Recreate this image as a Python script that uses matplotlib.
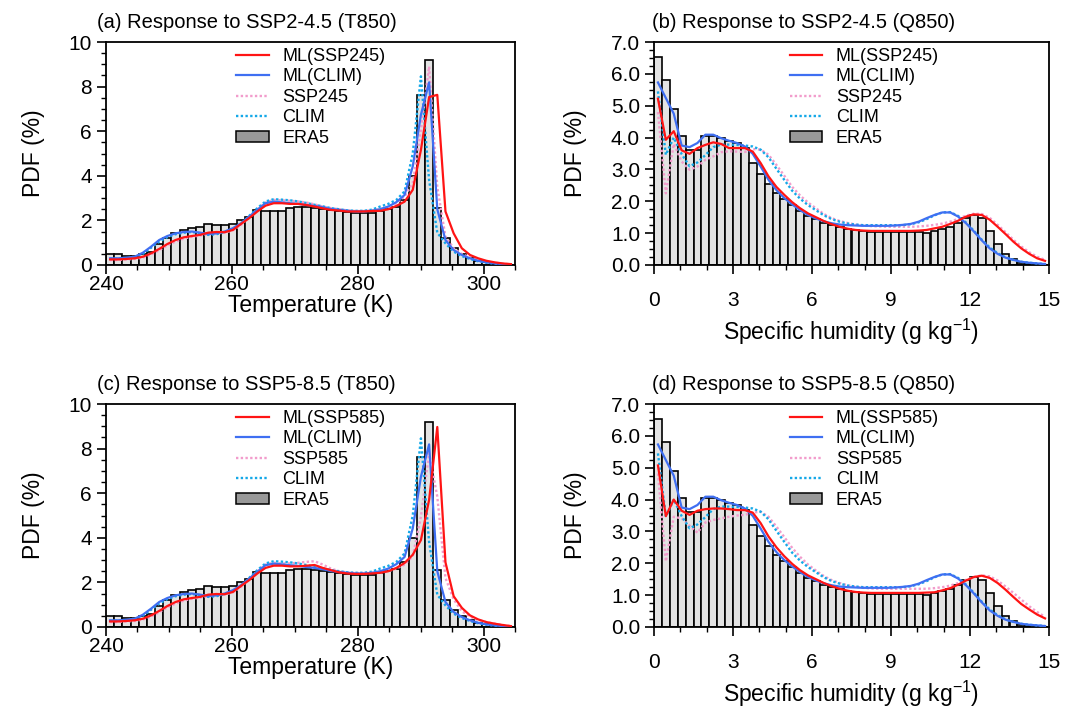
import numpy as np
import matplotlib.pyplot as plt
from matplotlib.patches import Patch
from matplotlib.lines import Line2D

plt.rcParams['font.family'] = ['Liberation Sans', 'DejaVu Sans']
plt.rcParams['mathtext.fontset'] = 'custom'
plt.rcParams['mathtext.rm'] = 'Liberation Sans'
plt.rcParams['mathtext.it'] = 'Liberation Sans:italic'

# ---- T850 (K): 50 bins of 1.3 K from 240 K
t_start, t_width = 240.0, 1.3
t_era5 = [0.48, 0.48, 0.42, 0.42, 0.50, 0.60, 0.93, 1.22, 1.42, 1.55,
          1.68, 1.72, 1.82, 1.78, 1.78, 1.84, 2.00, 2.15, 2.45, 2.43,
          2.40, 2.40, 2.54, 2.62, 2.62, 2.54, 2.50, 2.45, 2.43, 2.38,
          2.35, 2.35, 2.35, 2.43, 2.50, 2.62, 2.90, 3.97, 7.63, 9.18,
          2.54, 1.20, 0.75, 0.48, 0.30, 0.20, 0.13, 0.08, 0.04, 0.02]
t_ml_clim = [0.30, 0.30, 0.33, 0.37, 0.55, 0.82, 1.12, 1.30, 1.42, 1.48,
             1.50, 1.45, 1.39, 1.42, 1.50, 1.65, 1.87, 2.17, 2.47, 2.77,
             2.84, 2.81, 2.77, 2.74, 2.69, 2.65, 2.59, 2.51, 2.47, 2.43,
             2.40, 2.40, 2.43, 2.50, 2.62, 2.82, 3.14, 4.42, 6.74, 8.19,
             2.50, 1.12, 0.67, 0.45, 0.30, 0.19, 0.12, 0.07, 0.04, 0.02]
t_clim = [0.28, 0.28, 0.30, 0.35, 0.50, 0.77, 1.05, 1.25, 1.38, 1.45,
          1.48, 1.43, 1.35, 1.38, 1.48, 1.62, 1.85, 2.20, 2.55, 2.85,
          2.95, 2.93, 2.90, 2.85, 2.78, 2.70, 2.63, 2.55, 2.50, 2.45,
          2.43, 2.43, 2.48, 2.62, 2.74, 2.92, 3.30, 5.00, 8.46, 3.80,
          1.45, 0.97, 0.60, 0.40, 0.27, 0.17, 0.10, 0.06, 0.04, 0.02]
t_ml_ssp245 = [0.25, 0.25, 0.27, 0.30, 0.37, 0.52, 0.72, 0.94, 1.12, 1.24,
               1.30, 1.35, 1.45, 1.48, 1.47, 1.57, 1.84, 2.10, 2.40, 2.66,
               2.77, 2.77, 2.74, 2.74, 2.69, 2.62, 2.54, 2.47, 2.44, 2.40,
               2.40, 2.40, 2.42, 2.43, 2.50, 2.65, 2.84, 3.37, 5.16, 7.53,
               7.63, 2.40, 1.42, 0.75, 0.45, 0.30, 0.19, 0.12, 0.07, 0.04]
t_ssp245 = [0.22, 0.22, 0.25, 0.27, 0.33, 0.47, 0.66, 0.88, 1.05, 1.18,
            1.27, 1.32, 1.38, 1.42, 1.45, 1.55, 1.80, 2.15, 2.50, 2.80,
            2.92, 2.90, 2.88, 2.85, 2.80, 2.72, 2.62, 2.55, 2.50, 2.45,
            2.42, 2.42, 2.45, 2.50, 2.62, 2.77, 3.07, 3.67, 6.06, 8.90,
            3.50, 1.27, 0.75, 0.49, 0.34, 0.22, 0.15, 0.10, 0.06, 0.03]
t_ml_ssp585 = [0.25, 0.25, 0.27, 0.30, 0.37, 0.52, 0.72, 0.94, 1.12, 1.24,
               1.30, 1.35, 1.45, 1.48, 1.47, 1.57, 1.84, 2.10, 2.40, 2.65,
               2.75, 2.75, 2.72, 2.72, 2.75, 2.78, 2.65, 2.55, 2.45, 2.40,
               2.38, 2.38, 2.40, 2.43, 2.50, 2.65, 2.87, 3.24, 3.90, 5.70,
               8.97, 2.90, 1.38, 0.86, 0.52, 0.34, 0.22, 0.15, 0.09, 0.04]
t_ssp585 = [0.22, 0.22, 0.25, 0.27, 0.33, 0.47, 0.66, 0.88, 1.05, 1.18,
            1.27, 1.32, 1.38, 1.42, 1.45, 1.55, 1.80, 2.15, 2.50, 2.80,
            2.88, 2.85, 2.85, 2.88, 2.92, 2.95, 2.80, 2.62, 2.50, 2.45,
            2.42, 2.42, 2.43, 2.43, 2.50, 2.62, 2.80, 3.17, 4.95, 7.80,
            5.85, 2.20, 1.24, 0.71, 0.46, 0.31, 0.22, 0.15, 0.09, 0.04]

# ---- Q850 (g/kg): 50 bins of 0.3 from 0
q_start, q_width = 0.0, 0.3
q_era5 = [6.53, 5.82, 4.90, 4.04, 3.62, 3.62, 4.06, 4.04, 3.98, 3.90,
          3.83, 3.67, 3.20, 2.85, 2.54, 2.25, 2.06, 1.89, 1.68, 1.54,
          1.44, 1.33, 1.26, 1.20, 1.13, 1.10, 1.07, 1.05, 1.05, 1.05,
          1.05, 1.05, 1.05, 1.03, 1.02, 1.07, 1.12, 1.20, 1.33, 1.47,
          1.57, 1.47, 1.07, 0.66, 0.36, 0.18, 0.07, 0.04, 0.02, 0.01]
q_ml_clim = [5.73, 5.24, 4.75, 3.75, 3.70, 3.83, 4.09, 4.09, 3.98, 3.90,
             3.83, 3.72, 3.49, 3.09, 2.67, 2.35, 2.10, 1.90, 1.72, 1.57,
             1.46, 1.37, 1.31, 1.27, 1.25, 1.24, 1.23, 1.23, 1.23, 1.23,
             1.24, 1.26, 1.29, 1.36, 1.47, 1.57, 1.65, 1.65, 1.52, 1.31,
             1.05, 0.77, 0.52, 0.35, 0.23, 0.16, 0.10, 0.07, 0.05, 0.03]
q_clim = [5.45, 3.46, 4.00, 3.48, 3.10, 3.22, 3.45, 3.70, 3.78, 3.78,
          3.77, 3.75, 3.72, 3.62, 3.38, 3.02, 2.67, 2.33, 2.08, 1.88,
          1.72, 1.56, 1.44, 1.36, 1.30, 1.27, 1.25, 1.25, 1.25, 1.25,
          1.25, 1.25, 1.28, 1.34, 1.44, 1.56, 1.65, 1.66, 1.54, 1.33,
          1.07, 0.79, 0.55, 0.37, 0.24, 0.16, 0.10, 0.07, 0.05, 0.03]
q_ml_ssp245 = [5.22, 3.93, 4.20, 3.60, 3.49, 3.67, 3.77, 3.85, 3.80, 3.67,
               3.67, 3.67, 3.56, 3.20, 2.78, 2.45, 2.20, 1.97, 1.78, 1.62,
               1.50, 1.38, 1.28, 1.20, 1.14, 1.10, 1.08, 1.07, 1.07, 1.07,
               1.07, 1.07, 1.07, 1.08, 1.10, 1.15, 1.20, 1.29, 1.39, 1.52,
               1.59, 1.57, 1.42, 1.20, 0.97, 0.73, 0.52, 0.35, 0.21, 0.13]
q_ssp245 = [4.80, 2.25, 3.80, 3.25, 2.99, 3.09, 3.30, 3.41, 3.54, 3.57,
            3.56, 3.55, 3.64, 3.62, 3.46, 3.14, 2.80, 2.45, 2.18, 1.96,
            1.78, 1.60, 1.47, 1.38, 1.32, 1.27, 1.24, 1.22, 1.21, 1.20,
            1.20, 1.20, 1.20, 1.21, 1.23, 1.26, 1.30, 1.36, 1.45, 1.55,
            1.61, 1.60, 1.48, 1.26, 1.03, 0.79, 0.58, 0.40, 0.26, 0.16]
q_ml_ssp585 = [5.07, 3.48, 4.00, 3.65, 3.52, 3.65, 3.70, 3.72, 3.72, 3.70,
               3.67, 3.67, 3.59, 3.26, 2.84, 2.50, 2.22, 1.98, 1.78, 1.62,
               1.50, 1.38, 1.28, 1.20, 1.14, 1.10, 1.08, 1.07, 1.07, 1.07,
               1.07, 1.07, 1.07, 1.07, 1.08, 1.09, 1.15, 1.22, 1.33, 1.46,
               1.57, 1.61, 1.54, 1.38, 1.17, 0.94, 0.72, 0.55, 0.39, 0.27]
q_ssp585 = [4.82, 2.06, 3.46, 3.41, 3.18, 2.96, 3.28, 3.36, 3.41, 3.46,
            3.50, 3.52, 3.59, 3.62, 3.46, 3.15, 2.82, 2.48, 2.20, 1.96,
            1.77, 1.60, 1.47, 1.38, 1.31, 1.26, 1.23, 1.21, 1.20, 1.20,
            1.20, 1.20, 1.20, 1.20, 1.20, 1.22, 1.25, 1.30, 1.38, 1.48,
            1.57, 1.62, 1.59, 1.46, 1.27, 1.07, 0.86, 0.65, 0.47, 0.32]

RED = '#ff1414'
BLUE = '#3f6ff2'
PINK = '#f29ccc'
CYAN = '#14a8e8'
dot = (0, (1, 1))


def panel(ax, start, width, era5, ml_ssp, ml_clim, ssp, clim, ssp_name,
          title, xlabel, xlim, xmaj, xmin, ylim, ymaj, ymin, yfmt, tx, lx,
          xpad, xlpad):
    n = len(era5)
    centers = start + width * (np.arange(n) + 0.5)
    ax.bar(centers, era5, width=width, facecolor='#e3e3e3',
           edgecolor='black', linewidth=1.2, zorder=1)
    ax.plot(centers, ssp, color=PINK, lw=1.7, ls=dot, zorder=2)
    ax.plot(centers, clim, color=CYAN, lw=1.7, ls=dot, zorder=3)
    ax.plot(centers, ml_clim, color=BLUE, lw=1.6, zorder=4)
    ax.plot(centers, ml_ssp, color=RED, lw=1.6, zorder=5)

    ax.set_xlim(*xlim)
    ax.set_ylim(*ylim)
    ax.set_xticks(xmaj)
    ax.set_xticks(xmin, minor=True)
    ax.set_yticks(ymaj)
    ax.set_yticks(ymin, minor=True)
    ax.set_yticklabels([yfmt % v for v in ymaj])
    ax.tick_params(which='major', direction='out', length=6.5, width=1.2,
                   labelsize=15)
    ax.tick_params(which='minor', direction='out', length=3.6, width=1.0)
    ax.tick_params(axis='y', which='major', pad=3.5)
    ax.tick_params(axis='x', which='major', pad=xpad)
    for s in ax.spines.values():
        s.set_linewidth(1.3)
    ax.set_xlabel(xlabel, fontsize=16.5, labelpad=xlpad)
    ax.set_ylabel('PDF (%)', fontsize=16.5, labelpad=17)
    ax.text(tx, 1.045, title, transform=ax.transAxes, fontsize=14.5,
            ha='left', va='bottom')

    handles = [Line2D([], [], color=RED, lw=1.6),
               Line2D([], [], color=BLUE, lw=1.6),
               Line2D([], [], color=PINK, lw=1.7, ls=dot),
               Line2D([], [], color=CYAN, lw=1.7, ls=dot),
               Patch(facecolor='#999999', edgecolor='black', linewidth=1.1)]
    labels = ['ML(%s)' % ssp_name, 'ML(CLIM)', ssp_name, 'CLIM', 'ERA5']
    ax.legend(handles, labels, loc='upper left', bbox_to_anchor=(lx, 0.975),
              frameon=False, fontsize=13, borderpad=0, borderaxespad=0,
              handlelength=1.8, handletextpad=0.75, labelspacing=0.2,
              handleheight=0.6)


fig = plt.figure(figsize=(10.8, 7.08), dpi=100)
W, H = 1080.0, 708.0
boxes = {'a': (106, 515, 42, 265), 'b': (654, 1049, 42, 265),
         'c': (106, 515, 404, 627), 'd': (654, 1049, 404, 627)}
axs = {}
for k, (x0, x1, y0, y1) in boxes.items():
    axs[k] = fig.add_axes([x0 / W, 1 - y1 / H, (x1 - x0) / W, (y1 - y0) / H])

t_kw = dict(xlabel='Temperature (K)', xlim=(240, 305),
            xmaj=[240, 260, 280, 300], xmin=np.arange(240, 306, 5),
            ylim=(0, 10), ymaj=[0, 2, 4, 6, 8, 10],
            ymin=np.arange(0, 10.1, 0.5), yfmt='%d', tx=-0.022, lx=0.318,
            xpad=0.5, xlpad=0)
q_kw = dict(xlabel='Specific humidity (g kg$^{-1}$)', xlim=(0, 15),
            xmaj=[0, 3, 6, 9, 12, 15], xmin=np.arange(0, 16, 1),
            ylim=(0, 7), ymaj=[0, 1, 2, 3, 4, 5, 6, 7],
            ymin=np.arange(0, 7.01, 0.25), yfmt='%.1f', tx=-0.005, lx=0.344,
            xpad=12, xlpad=5)

panel(axs['a'], t_start, t_width, t_era5, t_ml_ssp245, t_ml_clim,
      t_ssp245, t_clim, 'SSP245', '(a) Response to SSP2-4.5 (T850)', **t_kw)
panel(axs['b'], q_start, q_width, q_era5, q_ml_ssp245, q_ml_clim,
      q_ssp245, q_clim, 'SSP245', '(b) Response to SSP2-4.5 (Q850)', **q_kw)
panel(axs['c'], t_start, t_width, t_era5, t_ml_ssp585, t_ml_clim,
      t_ssp585, t_clim, 'SSP585', '(c) Response to SSP5-8.5 (T850)', **t_kw)
panel(axs['d'], q_start, q_width, q_era5, q_ml_ssp585, q_ml_clim,
      q_ssp585, q_clim, 'SSP585', '(d) Response to SSP5-8.5 (Q850)', **q_kw)

fig.savefig('out.png', dpi=100)
